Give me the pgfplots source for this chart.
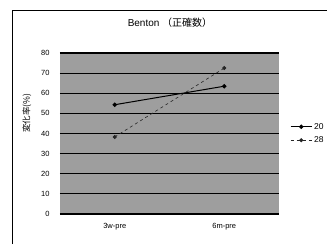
\documentclass[border=0pt]{standalone}
\usepackage{pgfplots}
\pgfplotsset{compat=1.18}
\usepackage{fontspec}
\setmainfont{Liberation Sans}
\newfontfamily\jp{Noto Sans CJK JP}
\begin{document}
\begin{tikzpicture}[x=1pt,y=1pt]
\useasboundingbox (0,0) rectangle (327,244);
% outer frame (left and top edges visible)
\draw[line width=0.8pt] (12,0) -- (12,234) -- (327,234);
\begin{axis}[
  at={(60pt,30pt)}, anchor=south west,
  scale only axis, width=219pt, height=161pt,
  xmin=-0.5, xmax=1.5, ymin=0, ymax=80,
  xtick={0,1}, xticklabels={3w-pre,6m-pre},
  ytick={0,10,...,80},
  axis line style={draw=none},
  axis background/.style={fill=black!38},
  ymajorgrids, grid style={black, line width=1.1pt},
  major tick length=0pt,
  tick label style={font=\fontsize{7.5}{8}\selectfont},
  /pgf/number format/assume math mode=true,
  yticklabel style={xshift=-7pt},
  xticklabel style={yshift=-6pt},
  legend style={at={(1,0.5)}, anchor=west, xshift=10pt, draw=none, fill=none,
    font=\fontsize{8.5}{9}\selectfont, row sep=2pt, inner sep=1pt},
  legend image code/.code={
    \draw[mark repeat=2,mark phase=2,#1] plot coordinates {(0pt,0pt) (10.5pt,0pt) (21pt,0pt)};
  },
  legend cell align=left,
]
\addplot[black, line width=1pt, mark=*, mark size=1.7pt] coordinates {(0,54.3) (1,63.5)};
\addlegendentry{20}
\addplot[black!85, line width=0.6pt, dashed, mark=*, mark size=1.7pt, mark options={solid}] coordinates {(0,38.3) (1,72.5)};
\addlegendentry{28}
\end{axis}
\node at (170,221) {\fontsize{10}{11}\selectfont Benton {\jp （正確数）}};
\node[rotate=90] at (27,131) {\fontsize{8.5}{9}\selectfont\jp 変化率(\%)};
\end{tikzpicture}
\end{document}
